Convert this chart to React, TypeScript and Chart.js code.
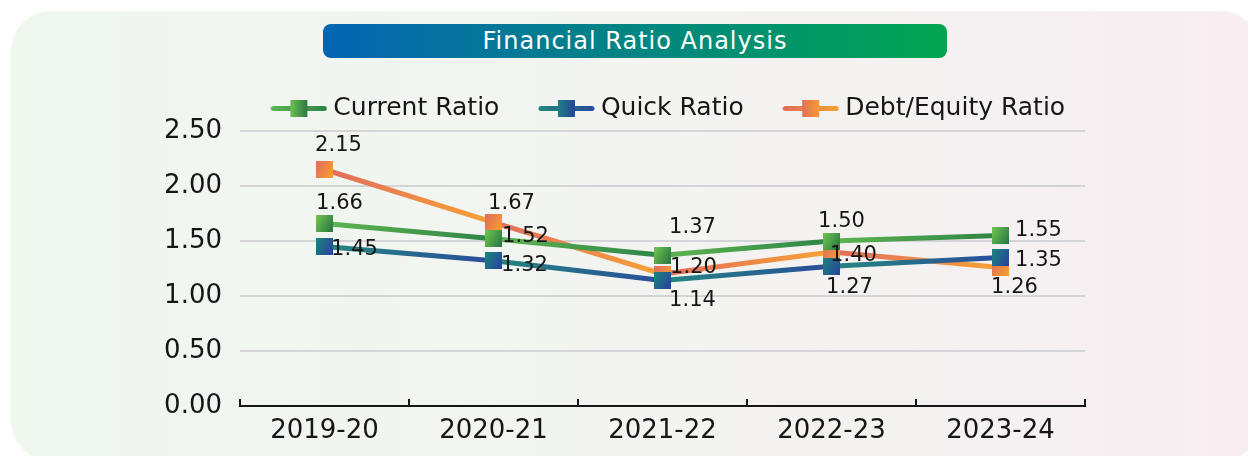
import React, { useEffect, useRef } from 'react';
import { Chart, registerables } from 'chart.js';

Chart.register(...registerables);

// ---------- data ----------
const categories = ['2019-20', '2020-21', '2021-22', '2022-23', '2023-24'];
const currentRatio = [1.66, 1.52, 1.37, 1.5, 1.55];
const quickRatio = [1.45, 1.32, 1.14, 1.27, 1.35];
const debtEquityRatio = [2.15, 1.67, 1.2, 1.4, 1.26];
const seriesNames = ['Current Ratio', 'Quick Ratio', 'Debt/Equity Ratio'];
const yMin = 0;
const yMax = 2.5;
const yStep = 0.5;
const titleText = 'Financial Ratio Analysis';

// ---------- style ----------
const FONT = '"DejaVu Sans", sans-serif';
const TEXT = '#161616';
// [line start, line end, marker start, marker end]
const seriesColors = [
  ['#5fb550', '#2d8446', '#6cc050', '#2c7a43'],
  ['#24877f', '#2a4c9c', '#1d8080', '#26469a'],
  ['#e26d5d', '#f7a234', '#e0705c', '#f79c30'],
];
// value-label offsets from each point (px)
const labelOffsets = [
  [[15, -20], [32, -2], [30, -28], [10, -19], [38, -5]],
  [[30, 3], [31, 5], [30, 20], [18, 21], [38, 3]],
  [[14, -24], [18, -19], [31, -6], [22, 4], [14, 20]],
];

function makeMarker(c0: string, c1: string) {
  const cv = document.createElement('canvas');
  cv.width = 17;
  cv.height = 17;
  const g = cv.getContext('2d')!;
  const lg = g.createLinearGradient(0, 4, 17, 13);
  lg.addColorStop(0, c0);
  lg.addColorStop(1, c1);
  g.fillStyle = lg;
  g.fillRect(0, 0, 17, 17);
  return cv;
}

function makeLegendIcon(l0: string, l1: string, m0: string, m1: string) {
  const cv = document.createElement('canvas');
  cv.width = 57;
  cv.height = 17;
  const g = cv.getContext('2d')!;
  const lg = g.createLinearGradient(0, 0, 57, 0);
  lg.addColorStop(0, l0);
  lg.addColorStop(1, l1);
  g.strokeStyle = lg;
  g.lineWidth = 5;
  g.lineCap = 'round';
  g.beginPath();
  g.moveTo(3, 8.5);
  g.lineTo(54, 8.5);
  g.stroke();
  const mg = g.createLinearGradient(20, 0, 37, 0);
  mg.addColorStop(0, m0);
  mg.addColorStop(1, m1);
  g.fillStyle = mg;
  g.fillRect(20, 0, 17, 17);
  return cv;
}

const valueLabels = {
  id: 'valueLabels',
  afterDatasetsDraw(chart: any) {
    const ctx = chart.ctx;
    ctx.save();
    ctx.font = `21px ${FONT}`;
    ctx.fillStyle = TEXT;
    ctx.textAlign = 'center';
    ctx.textBaseline = 'middle';
    chart.data.datasets.forEach((ds: any, di: number) => {
      const meta = chart.getDatasetMeta(di);
      meta.data.forEach((pt: any, i: number) => {
        const [dx, dy] = labelOffsets[di][i];
        ctx.fillText(Number(ds.data[i]).toFixed(2), pt.x + dx, pt.y + dy);
      });
    });
    ctx.restore();
  },
};

const innerTicks = {
  id: 'innerTicks',
  afterDraw(chart: any) {
    const xs = chart.scales.x;
    const ctx = chart.ctx;
    const bottom = chart.chartArea.bottom;
    ctx.save();
    ctx.strokeStyle = TEXT;
    ctx.lineWidth = 2;
    for (let i = 0; i <= categories.length; i++) {
      const x = Math.round(xs.getPixelForValue(i - 0.5));
      ctx.beginPath();
      ctx.moveTo(x, bottom + 1);
      ctx.lineTo(x, bottom - 7);
      ctx.stroke();
    }
    ctx.restore();
  },
};

export default function App() {
  const ref = useRef<HTMLCanvasElement>(null);

  useEffect(() => {
    const canvas = ref.current!;
    const c2d = canvas.getContext('2d')!;
    const seriesData = [currentRatio, quickRatio, debtEquityRatio];
    const markers = seriesColors.map((c) => makeMarker(c[2], c[3]));
    const icons = seriesColors.map((c) => makeLegendIcon(c[0], c[1], c[2], c[3]));

    const segGrad = (c0: string, c1: string) => (ctx: any) => {
      const g = c2d.createLinearGradient(ctx.p0.x, ctx.p0.y, ctx.p1.x, ctx.p1.y);
      g.addColorStop(0, c0);
      g.addColorStop(1, c1);
      return g;
    };

    const chart = new Chart(canvas, {
      type: 'line',
      data: {
        labels: categories,
        datasets: seriesData.map((d, i) => ({
          label: seriesNames[i],
          data: d,
          borderColor: seriesColors[i][1],
          borderWidth: 5,
          tension: 0,
          pointStyle: markers[i],
          pointRadius: 8,
          pointHoverRadius: 8,
          segment: { borderColor: segGrad(seriesColors[i][0], seriesColors[i][1]) },
          yAxisID: 'y',
        })),
      },
      options: {
        responsive: false,
        animation: false,
        events: [],
        layout: { padding: { top: 51, bottom: 10, left: 0, right: 0 } },
        plugins: {
          tooltip: { enabled: false },
          title: { display: false },
          legend: {
            display: true,
            position: 'top',
            labels: {
              usePointStyle: true,
              pointStyleWidth: 44,
              boxHeight: 16,
              padding: 45,
              color: TEXT,
              font: { family: FONT, size: 25 },
              generateLabels: (ch: any) =>
                ch.data.datasets.map((ds: any, i: number) => ({
                  text: ds.label,
                  pointStyle: icons[i],
                  fillStyle: 'rgba(0,0,0,0)',
                  strokeStyle: 'rgba(0,0,0,0)',
                  lineWidth: 0,
                  hidden: false,
                  datasetIndex: i,
                  fontColor: TEXT,
                })),
            },
          },
        },
        scales: {
          x: {
            type: 'category',
            offset: true,
            grid: { display: false, drawTicks: false },
            border: { display: true, color: TEXT, width: 2 },
            ticks: { color: TEXT, font: { family: FONT, size: 26 }, padding: 10, maxRotation: 0 },
            afterFit: (s: any) => {
              s.height = 40;
            },
          },
          y: {
            type: 'linear',
            position: 'left',
            min: yMin,
            max: yMax,
            grid: { color: '#d3d3d8', lineWidth: 2, drawTicks: false },
            border: { display: false },
            ticks: {
              stepSize: yStep,
              color: TEXT,
              padding: 18,
              font: { family: FONT, size: 26 },
              callback: (v: any) => Number(v).toFixed(2),
            },
            afterFit: (s: any) => {
              s.width = 146;
            },
          },
          yRight: {
            type: 'linear',
            position: 'right',
            display: true,
            grid: { display: false, drawTicks: false },
            border: { display: false },
            ticks: { display: false },
            afterFit: (s: any) => {
              s.width = 163;
            },
          },
        },
      } as any,
      plugins: [valueLabels, innerTicks],
    });
    return () => chart.destroy();
  }, []);

  return (
    <div
      style={{
        position: 'fixed',
        left: 0,
        top: 0,
        width: 1248,
        height: 456,
        background: '#ffffff',
        overflow: 'hidden',
      }}
    >
      <div
        style={{
          position: 'absolute',
          left: 11,
          top: 11,
          width: 1250,
          height: 450,
          borderRadius: 40,
          background: 'linear-gradient(90deg, #eff7ef 0%, #f3f4f1 50%, #f7eef2 100%)',
        }}
      />
      <div
        style={{
          position: 'absolute',
          left: 323,
          top: 24,
          width: 624,
          height: 34,
          borderRadius: 8,
          background: 'linear-gradient(90deg, #0565b4 0%, #01a550 100%)',
          color: '#ffffff',
          fontFamily: FONT,
          fontSize: 24,
          letterSpacing: 1,
          lineHeight: '34px',
          textAlign: 'center',
        }}
      >
        {titleText}
      </div>
      <canvas
        ref={ref}
        width={1154}
        height={456}
        style={{ position: 'absolute', left: 94, top: 0, width: 1154, height: 456 }}
      />
    </div>
  );
}
